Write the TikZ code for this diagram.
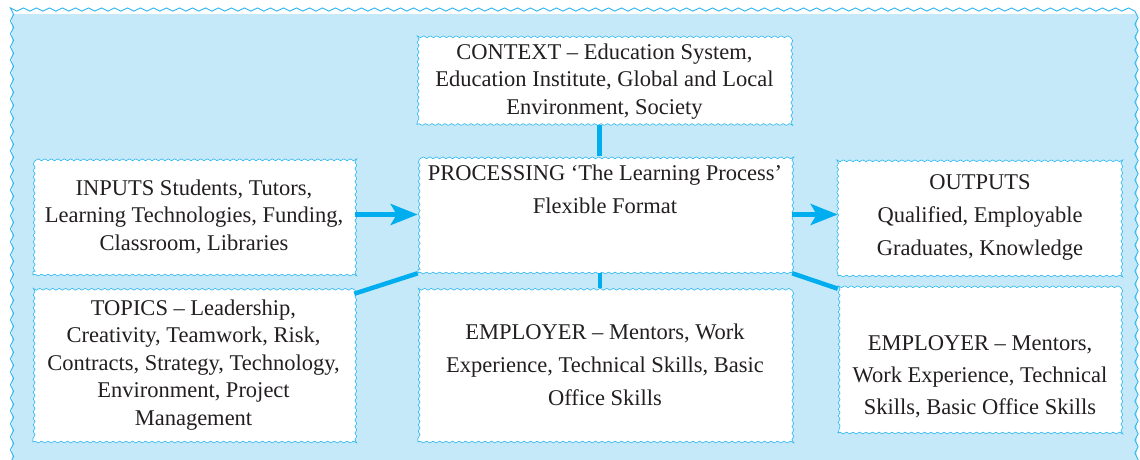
\documentclass[tikz,border=0pt]{standalone}
\usepackage{fontspec}
\setmainfont{Liberation Serif}
\usetikzlibrary{decorations.pathmorphing,arrows.meta}

\definecolor{panelfill}{HTML}{C5E9F8}
\definecolor{wavecol}{HTML}{29B6F0}
\definecolor{linkcol}{HTML}{00AEEF}
\definecolor{inkcol}{HTML}{231F20}

\tikzset{
  box/.style={draw=wavecol, fill=white, line width=0.6pt, decorate,
    decoration={snake, segment length=6.5pt, amplitude=0.9pt},
    inner sep=0pt, align=center, text=inkcol,
    font=\fontsize{22.5}{33}\selectfont},
  tight/.style={font=\fontsize{22.5}{27.5}\selectfont},
  txt/.style={inner sep=0pt, align=center, text=inkcol,
    font=\fontsize{22.5}{33}\selectfont},
  link/.style={draw=linkcol, line width=4.5pt},
  flow/.style={link, -{Stealth[length=27pt,width=21pt,inset=6pt]}},
}

\begin{document}
\begin{tikzpicture}[x=1pt,y=-1pt]
\useasboundingbox (0,0) rectangle (1140,459);
% outer panel
\fill[panelfill] (12,14) rectangle (1137,480);
\draw[wavecol, line width=0.9pt, decorate,
  decoration={snake, segment length=13pt, amplitude=1.6pt}]
  (12,480) -- (12,14) -- (1137,14) -- (1137,480);

\node[box, tight, minimum width=375, minimum height=86] (ctx) at (604.5,81.5)
  {CONTEXT -- Education System,\\Education Institute, Global and Local\\Environment, Society};
\node[box, tight, minimum width=322, minimum height=117] (inputs) at (194,216.5)
  {INPUTS Students, Tutors,\\Learning Technologies, Funding,\\Classroom, Libraries};
\node[box, minimum width=374, minimum height=117] (proc) at (605,214.5) {};
\node[txt, anchor=north] (proclbl) at ([yshift=-9pt]proc.north)
  {PROCESSING `The Learning Process'\\Flexible Format};
\node[box, minimum width=284, minimum height=117] (outputs) at (980,217.5)
  {OUTPUTS\\Qualified, Employable\\Graduates, Knowledge};
\node[box, tight, minimum width=321, minimum height=154] (topics) at (193.5,365)
  {TOPICS -- Leadership,\\Creativity, Teamwork, Risk,\\Contracts, Strategy, Technology,\\Environment, Project\\Management};
\node[box, minimum width=374, minimum height=154] (empmid) at (605,365)
  {EMPLOYER -- Mentors, Work\\Experience, Technical Skills, Basic\\Office Skills};
\node[box, minimum width=284, minimum height=144] (empright) at (980,361) {};
\node[txt, font=\fontsize{22.5}{32}\selectfont] (emprightlbl) at ([yshift=-16pt]empright.center)
  {EMPLOYER -- Mentors,\\Work Experience, Technical\\Skills, Basic Office Skills};

% connectors
\draw[link] ([xshift=-5pt]ctx.south) -- ([xshift=-5pt]ctx.south |- proc.north);
\draw[flow] (inputs.east |- proc.west) -- (proc.west);
\draw[flow] (proc.east) -- (outputs.west |- proc.east);
\draw[link] (proc.south west) -- ([yshift=-6pt]topics.north east);
\draw[link] ([xshift=-5pt]proc.south) -- ([xshift=-5pt]proc.south |- empmid.north);
\draw[link] (proc.south east) -- (empright.north west);
\end{tikzpicture}
\end{document}
